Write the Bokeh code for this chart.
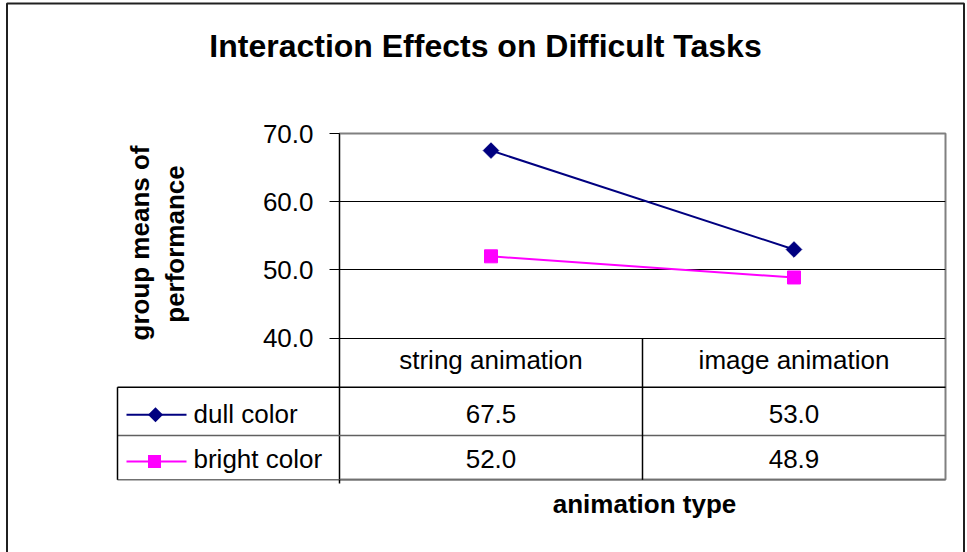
import math
from bokeh.plotting import figure
from bokeh.models import Range1d, FixedTicker, NumeralTickFormatter, ColumnDataSource
from bokeh.core.properties import value
from bokeh.embed import file_html
from bokeh.resources import INLINE

# ---- data ----
title_text = "Interaction Effects on Difficult Tasks"
categories = ["string animation", "image animation"]
series_names = ["dull color", "bright color"]
dull_color = [67.5, 53.0]
bright_color = [52.0, 48.9]
series_colors = ["#000080", "#FF00FF"]
y_ticks = [40, 50, 60, 70]
y_title_lines = ["group means of", "performance"]
x_title = "animation type"

FONT = "Liberation Sans"
W, H = 967, 552
FL, FR, FT, FB = 339, 945, 133, 479      # plot-frame edges (page px)
Y_MIN, Y_MAX = 40, 70
Y_MIN_PX = 337.7
ppu = (Y_MIN_PX - FT) / (Y_MAX - Y_MIN)
y_start = Y_MAX - (FB - FT) / ppu

# category slots: category i occupies [i, i+1] on the x scale
cat_x = [i + 0.5 for i in range(len(categories))]

p = figure(width=W, height=H,
           x_range=Range1d(0, len(categories)),
           y_range=Range1d(y_start, Y_MAX),
           output_backend="svg", toolbar_location=None, x_axis_location=None,
           min_border_left=FL, min_border_right=W - FR,
           min_border_top=FT, min_border_bottom=H - FB)
# pixel-space helper ranges (used only for table rules and text anchors)
p.extra_x_ranges = {"px": Range1d(FL, FR)}
p.extra_y_ranges = {"px": Range1d(FB, FT)}
p.background_fill_color = "white"
p.border_fill_color = "white"
p.outline_line_color = "#808080"
p.outline_line_width = 2

ax = p.yaxis[0]
ax.ticker = FixedTicker(ticks=y_ticks)
ax.formatter = NumeralTickFormatter(format="0.0")
ax.major_label_text_font = FONT
ax.major_label_text_font_size = "26px"
ax.major_label_text_color = "black"
ax.major_tick_out = 10
ax.major_tick_in = 0
ax.minor_tick_out = 0
ax.minor_tick_in = 0
ax.major_label_standoff = 16
ax.axis_line_color = "black"
ax.major_tick_line_color = "black"
p.ygrid.ticker = FixedTicker(ticks=y_ticks)
p.ygrid.grid_line_color = "black"
p.xgrid.visible = False

# ---- series ----
src = ColumnDataSource(dict(x=cat_x, cat=categories, dull=dull_color, bright=bright_color))
p.line("x", "dull", source=src, color=series_colors[0], line_width=2)
p.scatter("x", "dull", source=src, marker="square", angle=math.pi / 4, size=11,
          color=series_colors[0])
p.line("x", "bright", source=src, color=series_colors[1], line_width=2)
p.scatter("x", "bright", source=src, marker="square", size=13, color=series_colors[1])

# ---- data table rules ----
LEG_L = 117
ROW_LINES = [386.7, 435, 479.3]
p.segment(x0=[LEG_L] * 3, x1=[FR] * 3, y0=ROW_LINES, y1=ROW_LINES,
          x_range_name="px", y_range_name="px", level="overlay",
          line_color=["black", "#606060", "#707070"], line_width=1.5)
p.segment(x0=[LEG_L, FL], x1=[LEG_L, FL], y0=[ROW_LINES[0], FB], y1=[ROW_LINES[2], 483],
          x_range_name="px", y_range_name="px", level="overlay",
          line_color="black", line_width=1.5)
# divider between the category columns (x = 1 on the category scale)
p.segment(x0=[1], x1=[1], y0=[Y_MIN_PX], y1=[ROW_LINES[2]], y_range_name="px",
          level="overlay", line_color="black", line_width=1.5)

TXT = dict(text_font=value(FONT), text_color="black", level="overlay")
BL26 = -9.5    # baseline correction for 26px text
BL32 = -11.5   # baseline correction for 32px text

# header row + values
p.text(x=cat_x, y=[369.3 + BL26] * len(cat_x), text=categories, y_range_name="px",
       text_font_size="26px", text_align="center", text_baseline="alphabetic", **TXT)
row_base = [422.5 + BL26, 468 + BL26]
for vals, yb in zip([dull_color, bright_color], row_base):
    p.text(x=cat_x, y=[yb] * len(cat_x), text=[f"{v:.1f}" for v in vals], y_range_name="px",
           text_font_size="26px", text_align="center", text_baseline="alphabetic", **TXT)


def outside_text(txt, px_x, px_y, **kw):
    """Anchor inside the frame, pushed to its page position with pixel offsets."""
    ax_ = min(max(px_x, FL + 1), FR - 1)
    ay_ = min(max(px_y, FT + 1), FB - 1)
    p.text(x=[ax_], y=[ay_], text=[txt], x_offset=px_x - ax_, y_offset=px_y - ay_,
           x_range_name="px", y_range_name="px", **TXT, **kw)


# legend keys (line + marker) and names
key_y = [414.3, 461]
for name, col, ky, yb, mk in zip(series_names, series_colors, key_y, row_base, ["dia", "sq"]):
    p.segment(x0=[126], x1=[186], y0=[ky], y1=[ky], x_range_name="px", y_range_name="px",
              level="overlay", line_color=col, line_width=2)
    if mk == "dia":
        d = 3.75
        p.segment(x0=[155 - d], x1=[155 + d], y0=[ky + d], y1=[ky - d], x_range_name="px",
                  y_range_name="px", level="overlay", line_color=col, line_width=10.6,
                  line_cap="butt")
    else:
        p.segment(x0=[147.5], x1=[160.5], y0=[ky], y1=[ky], x_range_name="px",
                  y_range_name="px", level="overlay", line_color=col, line_width=13,
                  line_cap="butt")
    outside_text(name, 193, yb, text_font_size="26px", text_align="left",
                 text_baseline="alphabetic")

# titles
outside_text(title_text, 485, 56.7 + BL32, text_font_size="32px", text_font_style="bold",
             text_align="center", text_baseline="alphabetic")
outside_text(x_title, 644, 513 + BL26, text_font_size="26px", text_font_style="bold",
             text_align="center", text_baseline="alphabetic")
for line, lx, ly in zip(y_title_lines, [149 + BL26, 184 + BL26], [242.5, 243.5]):
    outside_text(line, lx, ly, angle=math.pi / 2, text_font_size="26px",
                 text_font_style="bold", text_align="center", text_baseline="alphabetic")

# outer chart border (bottom edge lies outside the picture)
p.line(x=[6.5, 6.5, 963.5, 963.5], y=[552, 3, 3, 552], x_range_name="px",
       y_range_name="px", level="overlay", line_color="#202020", line_width=2)

open("out.html", "w").write(file_html(p, INLINE))
